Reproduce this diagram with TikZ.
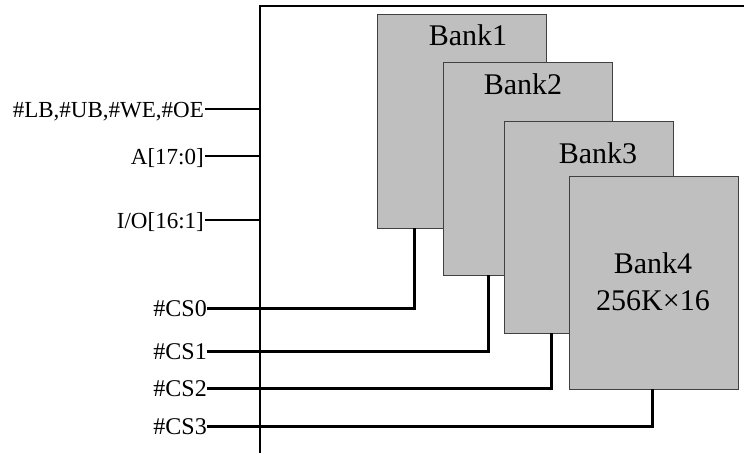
\documentclass[tikz,border=0pt]{standalone}
\usepackage{fontspec}
\setmainfont{Liberation Serif}
\begin{document}
\begin{tikzpicture}[x=1pt,y=-1pt,
  bank/.style={draw=black!75,line width=0.9pt,fill=black!25,minimum width=169pt,inner sep=0pt},
  banktext/.style={font=\fontsize{30}{37}\selectfont,inner sep=0pt,anchor=base,align=center},
  sig/.style={font=\fontsize{23}{27}\selectfont,text height=16pt,text depth=0pt,inner ysep=0pt,inner xsep=1pt,anchor=east},
  cssig/.style={font=\fontsize{24}{28}\selectfont,text height=16pt,text depth=0pt,inner ysep=0pt,inner xsep=0pt,anchor=east},
  wire/.style={line width=1.8pt},
  boxline/.style={line width=2pt},
  cswire/.style={line width=3pt}]
\useasboundingbox (0,0) rectangle (744,453);
% chip outline
\coordinate (boxTL) at (260,6);
\coordinate (boxTR) at (744,6);
\coordinate (boxBL) at (260,453);
\draw[boxline] (boxTR) -- (boxTL) -- (boxBL);
% banks
\node[bank,minimum height=214pt] (b1) at (462,121) {};
\node[bank,minimum height=213pt] (b2) at (528,168.5) {};
\node[bank,minimum height=212pt] (b3) at (588.5,227) {};
\node[bank,minimum height=213pt] (b4) at (653.5,282.5) {};
\node[banktext] (t1) at (468,45.5) {Bank1};
\node[banktext] (t2) at (523,94) {Bank2};
\node[banktext] (t3) at (598,163) {Bank3};
\node[banktext] (t4) at (653,310) {Bank4\\256K×16};
% left signals
\node[sig] (lb) at (205,109) {\#LB,\#UB,\#WE,\#OE};
\node[sig] (addr) at (205,156) {A[17:0]};
\node[sig] (io) at (205,220) {I/O[16:1]};
\draw[wire] (lb.east) -- (lb.east -| boxTL);
\draw[wire] (addr.east) -- (addr.east -| boxTL);
\draw[wire] (io.east) -- (io.east -| boxTL);
% chip selects
\node[cssig] (cs0) at (207,308) {\#CS0};
\node[cssig] (cs1) at (207,351) {\#CS1};
\node[cssig] (cs2) at (207,388) {\#CS2};
\node[cssig] (cs3) at (207,426) {\#CS3};
\draw[cswire] (cs0.east) -| ([xshift=37pt]b1.south west);
\draw[cswire] (cs1.east) -| ([xshift=45pt]b2.south west);
\draw[cswire] (cs2.east) -| ([xshift=48pt]b3.south west);
\draw[cswire] (cs3.east) -| ([xshift=84pt]b4.south west);
\end{tikzpicture}
\end{document}
